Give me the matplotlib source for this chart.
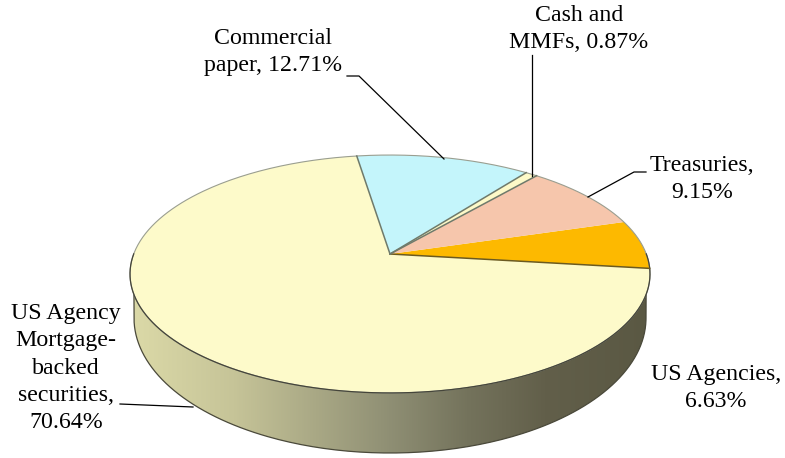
import matplotlib
matplotlib.use('Agg')

import matplotlib.pyplot as plt
import numpy as np
from matplotlib.colors import LinearSegmentedColormap
from matplotlib.patches import Polygon

plt.rcParams['font.family'] = ['Liberation Serif', 'DejaVu Serif']

# slices, counter-clockwise from the right-hand edge of the pie
categories = ['US Agencies', 'Treasuries', 'Cash and MMFs', 'Commercial paper',
              'US Agency Mortgage-backed securities']
shares = [6.63, 9.15, 0.87, 12.71, 70.64]
colors = ['#fdb900', '#f6c6ac', '#fdf9c8', '#c4f5fb', '#fdfaca']
label_texts = ['US Agencies,\n6.63%', 'Treasuries,\n9.15%', 'Cash and\nMMFs, 0.87%',
               'Commercial\npaper, 12.71%', 'US Agency\nMortgage-\nbacked\nsecurities,\n70.64%']

# pie geometry in pixels; the tilt is a perspective map of a unit circle
CX, CY = 390.0, 254.0
B, A, K = 256.3, 115.6, 0.168
START_DEG = -7.0


def project(theta):
    u, v = np.cos(theta), np.sin(theta)
    w = 1 + K * v
    return CX + B * u / w, CY - A * v / w


def arc(a0, a1, n=120):
    return project(np.radians(np.linspace(a0, a1, n)))


fig = plt.figure(figsize=(7.85, 4.58), dpi=100)
ax = fig.add_axes([0, 0, 1, 1])
ax.set_xlim(0, 785)
ax.set_ylim(458, 0)
ax.axis('off')

# rim: gradient clipped between the top ellipse and the lower ellipse
tx, ty = arc(180, 360, 200)
phi = np.radians(np.linspace(0, 180, 200))
bx = CX + 256 * np.cos(phi)
by = 318 + 135 * np.sin(phi)
rim = Polygon(np.vstack([np.column_stack([tx, ty]), np.column_stack([bx, by])]),
              closed=True, facecolor='none', edgecolor='none')
ax.add_patch(rim)
rim_cmap = LinearSegmentedColormap.from_list(
    'rim', [(0.0, '#dcdaa8'), (0.2, '#c6c498'), (0.5, '#8f8f74'),
            (0.65, '#74735c'), (0.8, '#625f4a'), (1.0, '#5a5843')])
im = ax.imshow(np.linspace(0, 1, 256)[None, :], extent=(129, 650, 458, 0),
               cmap=rim_cmap, aspect='auto', zorder=1)
im.set_clip_path(rim)
ax.plot(np.r_[tx[0], bx[::-1], tx[-1]], np.r_[ty[0], by[::-1], ty[-1]],
        color='#4a493a', lw=0.9, zorder=2)
ax.set_xlim(0, 785)
ax.set_ylim(458, 0)

# top face
angles = START_DEG + np.cumsum([0] + shares) * 3.6
for i, color in enumerate(colors):
    x, y = arc(angles[i], angles[i + 1])
    ax.fill(np.r_[CX, x], np.r_[CY, y], color=color, lw=0, zorder=3)

# outline and slice borders (the agencies/treasuries border is not drawn)
ox, oy = arc(0, 360, 360)
ax.plot(ox, oy, color='#9a9e90', lw=0.8, zorder=4)
fx, fy = arc(180, 360, 200)
ax.plot(fx, fy, color='#45453a', lw=0.9, zorder=4)
for i in [0, 2, 3, 4]:
    x, y = project(np.radians(angles[i]))
    ax.plot([CX, x], [CY, y], color='#6f7a6b' if i else '#6b5a20', lw=1.1, zorder=4)

# leader lines
leaders = [
    ([347, 359, 444], [76, 76, 159]),
    ([532, 532], [55, 176]),
    ([588, 634, 646], [197, 172, 172]),
    ([120, 193], [404, 407]),
]
for lx, ly in leaders:
    ax.plot(lx, ly, color='black', lw=0.9, zorder=5)

label_pos = [(716, 388), (702, 179), (579, 29), (273, 52), (66, 368)]
for text, (x, y) in zip(label_texts, label_pos):
    ax.text(x, y, text, ha='center', va='center', fontsize=17.2,
            linespacing=1.38, color='black', zorder=6)

plt.savefig('out.png', dpi=100)
plt.close()
